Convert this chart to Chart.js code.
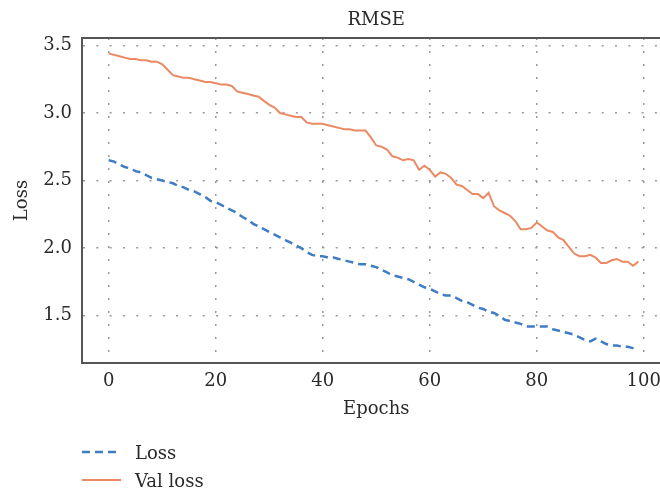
<!DOCTYPE html>
<html>
<head>
<meta charset="utf-8">
<script src="https://cdn.jsdelivr.net/npm/chart.js@4"></script>
<style>
    html, body { margin: 0; padding: 0; overflow: hidden; background: #fff; }
    #wrap { position: relative; width: 660px; height: 489px; overflow: hidden; }
    #legend { position: absolute; left: 82px; top: 438px; font-family: "DejaVu Serif"; font-size: 18px; color: #2a2a2a; }
    .item { display: flex; align-items: center; height: 28px; }
    .item svg { margin-right: 14px; }
</style>
</head>
<body>
<div id="wrap">
    <canvas id="rmseChart" width="672" height="489"></canvas>
    <div id="legend">
        <div class="item">
            <svg width="39" height="6"><line x1="0" y1="3" x2="39" y2="3" stroke="#3e7cc4" stroke-width="2.5" stroke-dasharray="8,5"/></svg>
            <span>Loss</span>
        </div>
        <div class="item">
            <svg width="39" height="6"><line x1="0" y1="3" x2="39" y2="3" stroke="#ea8a64" stroke-width="2.2"/></svg>
            <span>Val loss</span>
        </div>
    </div>
</div>
<script>
// training loss per epoch (0..99)
const loss = [
    2.65, 2.64, 2.62, 2.60, 2.59, 2.57, 2.56, 2.54, 2.52, 2.51,
    2.50, 2.49, 2.48, 2.46, 2.45, 2.43, 2.42, 2.40, 2.38, 2.35,
    2.34, 2.32, 2.30, 2.28, 2.26, 2.23, 2.21, 2.18, 2.16, 2.14,
    2.12, 2.10, 2.08, 2.06, 2.04, 2.02, 2.00, 1.97, 1.95, 1.94,
    1.94, 1.93, 1.93, 1.92, 1.91, 1.90, 1.89, 1.88, 1.88, 1.87,
    1.86, 1.84, 1.82, 1.80, 1.79, 1.78, 1.77, 1.75, 1.73, 1.71,
    1.70, 1.68, 1.66, 1.65, 1.65, 1.63, 1.61, 1.60, 1.58, 1.56,
    1.55, 1.53, 1.52, 1.50, 1.47, 1.46, 1.45, 1.44, 1.42, 1.42,
    1.42, 1.42, 1.42, 1.40, 1.39, 1.38, 1.37, 1.36, 1.34, 1.32,
    1.31, 1.33, 1.31, 1.29, 1.28, 1.28, 1.27, 1.27, 1.26, 1.25
];

// validation loss per epoch (0..99)
const valLoss = [
    3.44, 3.43, 3.42, 3.41, 3.40, 3.40, 3.39, 3.39, 3.38, 3.38,
    3.36, 3.32, 3.28, 3.27, 3.26, 3.26, 3.25, 3.24, 3.23, 3.23,
    3.22, 3.21, 3.21, 3.20, 3.16, 3.15, 3.14, 3.13, 3.12, 3.09,
    3.06, 3.04, 3.00, 2.99, 2.98, 2.97, 2.97, 2.93, 2.92, 2.92,
    2.92, 2.91, 2.90, 2.89, 2.88, 2.88, 2.87, 2.87, 2.87, 2.82,
    2.76, 2.75, 2.73, 2.68, 2.67, 2.65, 2.66, 2.65, 2.58, 2.61,
    2.58, 2.53, 2.56, 2.55, 2.52, 2.47, 2.46, 2.43, 2.40, 2.40,
    2.37, 2.41, 2.31, 2.28, 2.26, 2.24, 2.20, 2.14, 2.14, 2.15,
    2.19, 2.16, 2.13, 2.12, 2.08, 2.06, 2.01, 1.96, 1.94, 1.94,
    1.95, 1.93, 1.89, 1.89, 1.91, 1.92, 1.90, 1.90, 1.87, 1.90
];

const xTicks = [0, 20, 40, 60, 80, 100];
const yTicks = [1.5, 2.0, 2.5, 3.0, 3.5];

const font = { family: 'DejaVu Serif', size: 18 };
const textColor = '#2a2a2a';
const frameColor = '#555';
const dotGrid = { color: '#999', lineWidth: 1.5, drawTicks: false };

const ctx = document.getElementById('rmseChart').getContext('2d');
new Chart(ctx, {
    type: 'line',
    data: {
        datasets: [
            {
                label: 'Loss',
                data: loss.map((v, i) => ({ x: i, y: v })),
                borderColor: '#3e7cc4',
                borderWidth: 2.5,
                borderDash: [8, 5],
                pointRadius: 0,
                tension: 0
            },
            {
                label: 'Val loss',
                data: valLoss.map((v, i) => ({ x: i, y: v })),
                borderColor: '#ea8a64',
                borderWidth: 2,
                pointRadius: 0,
                tension: 0
            }
        ]
    },
    options: {
        responsive: false,
        animation: false,
        devicePixelRatio: 1,
        layout: { padding: { left: 0, right: 1.5, top: 0, bottom: 69 } },
        plugins: {
            legend: { display: false },
            tooltip: { enabled: false }
        },
        scales: {
            x: {
                type: 'linear',
                min: -5,
                max: 105,
                afterBuildTicks: axis => { axis.ticks = xTicks.map(v => ({ value: v })); },
                afterFit: axis => { axis.height = 57; },
                grid: dotGrid,
                border: { color: frameColor, width: 2, dash: [2, 11] },
                ticks: { font: font, color: textColor, padding: 8, maxRotation: 0 },
                title: { display: true, text: 'Epochs', font: font, color: textColor, padding: { top: 0, bottom: 0 } }
            },
            top: {
                type: 'linear',
                position: 'top',
                min: -5,
                max: 105,
                afterFit: axis => { axis.height = 38; },
                grid: { display: false, drawTicks: false },
                border: { color: frameColor, width: 2 },
                ticks: { display: false },
                title: { display: true, text: 'RMSE', font: font, color: textColor, padding: { top: 10, bottom: 0 } }
            },
            y: {
                min: 1.15,
                max: 3.555,
                afterBuildTicks: axis => { axis.ticks = yTicks.map(v => ({ value: v })); },
                afterFit: axis => { axis.width = 82; },
                grid: dotGrid,
                border: { color: frameColor, width: 2, dash: [2, 11.3] },
                ticks: { font: font, color: textColor, padding: 10, callback: v => v.toFixed(1) },
                title: { display: true, text: 'Loss', font: font, color: textColor, padding: { top: 12, bottom: 0 } }
            }
        }
    }
});
</script>
</body>
</html>
